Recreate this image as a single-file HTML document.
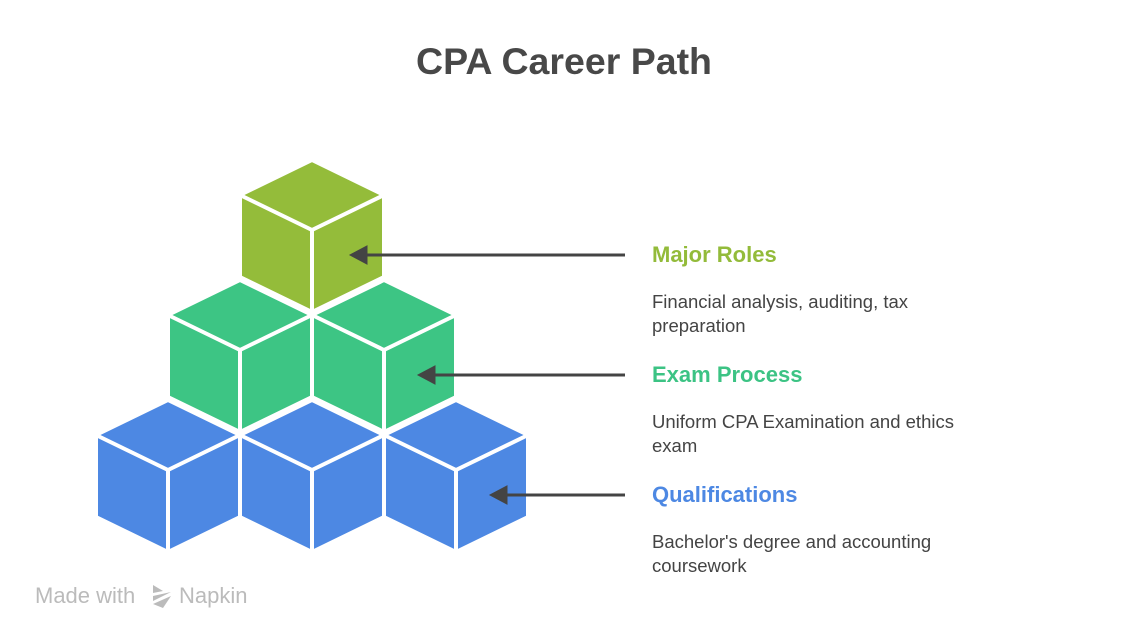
<!DOCTYPE html>
<html><head><meta charset="utf-8"><style>
body{margin:0;width:1128px;height:640px;background:#fff;overflow:hidden;position:relative;font-family:"Liberation Sans",sans-serif}
.t{position:absolute;white-space:nowrap}
h1{position:absolute;left:0;width:1128px;text-align:center;top:40px;margin:0;font-size:37.5px;color:#484848;font-weight:bold}
.l{font-weight:bold;font-size:22px;left:652px}
.d{font-size:18.5px;color:#444;left:652px;line-height:24px}
</style></head><body>
<h1>CPA Career Path</h1>
<svg width="1128" height="640" style="position:absolute;left:0;top:0">
<g stroke="#fff" stroke-width="4" stroke-linejoin="round">
<g fill="#94bc3a"><path d="M312 160 L384 195 L384 277 L312 312 L240 277 L240 195 Z"/><path d="M240 195 L312 230 L384 195 M312 230 L312 312" fill="none"/></g>
<g fill="#3dc584">
<path d="M240 280 L312 315 L312 397 L240 432 L168 397 L168 315 Z"/><path d="M168 315 L240 350 L312 315 M240 350 L240 432" fill="none"/>
<path d="M384 280 L456 315 L456 397 L384 432 L312 397 L312 315 Z"/><path d="M312 315 L384 350 L456 315 M384 350 L384 432" fill="none"/>
</g>
<g fill="#4d88e3">
<path d="M168 400 L240 435 L240 517 L168 552 L96 517 L96 435 Z"/><path d="M96 435 L168 470 L240 435 M168 470 L168 552" fill="none"/>
<path d="M312 400 L384 435 L384 517 L312 552 L240 517 L240 435 Z"/><path d="M240 435 L312 470 L384 435 M312 470 L312 552" fill="none"/>
<path d="M456 400 L528 435 L528 517 L456 552 L384 517 L384 435 Z"/><path d="M384 435 L456 470 L528 435 M456 470 L456 552" fill="none"/>
</g>
</g>
<g stroke="#444" stroke-width="3" fill="#444">
<line x1="365" y1="255" x2="625" y2="255"/><path d="M350 255 L367 246 L367 264 Z" stroke-width="1"/>
<line x1="433" y1="375" x2="625" y2="375"/><path d="M418 375 L435 366 L435 384 Z" stroke-width="1"/>
<line x1="505" y1="495" x2="625" y2="495"/><path d="M490 495 L507 486 L507 504 Z" stroke-width="1"/>
</g>
<g fill="#bbb"><path d="M153 585 L163 591 L153 593 Z"/><path d="M153 596 L171 592 L153 601 Z"/><path d="M153 604 L171 596 L163 608 Z"/></g>
</svg>
<div class="t l" style="top:242px;color:#93bb3a">Major Roles</div>
<div class="t d" style="top:290px">Financial analysis, auditing, tax<br>preparation</div>
<div class="t l" style="top:362px;color:#3cc384">Exam Process</div>
<div class="t d" style="top:410px">Uniform CPA Examination and ethics<br>exam</div>
<div class="t l" style="top:482px;color:#4d88e3">Qualifications</div>
<div class="t d" style="top:530px">Bachelor's degree and accounting<br>coursework</div>
<div class="t" style="left:35px;top:583px;font-size:22px;color:#bbb">Made with</div>
<div class="t" style="left:179px;top:583px;font-size:22px;color:#bbb">Napkin</div>
</body></html>
